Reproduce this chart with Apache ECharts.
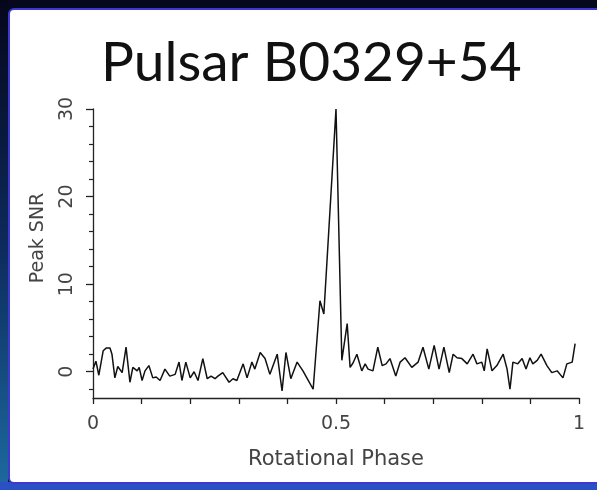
<!DOCTYPE html>
<html>
<head>
<meta charset="utf-8">
<style>
  html, body { margin: 0; padding: 0; background: #06081e; }
  #chart { width: 597px; height: 490px; }
</style>
<script src="https://cdn.jsdelivr.net/npm/echarts@6/dist/echarts.min.js"></script>
</head>
<body>
<div id="chart"></div>
<script>
// Folded pulse profile of PSR B0329+54: rotational phase vs. peak SNR
const phase = [
  0.000, 0.006, 0.012, 0.021, 0.027, 0.035, 0.039, 0.045, 0.051, 0.060,
  0.068, 0.076, 0.082, 0.091, 0.095, 0.101, 0.107, 0.115, 0.123, 0.130,
  0.138, 0.148, 0.158, 0.169, 0.177, 0.183, 0.191, 0.200, 0.208, 0.216,
  0.226, 0.235, 0.243, 0.251, 0.257, 0.267, 0.280, 0.288, 0.296, 0.309,
  0.317, 0.327, 0.333, 0.344, 0.354, 0.364, 0.379, 0.389, 0.397, 0.407,
  0.420, 0.432, 0.442, 0.453, 0.467, 0.475, 0.500, 0.512, 0.523, 0.529,
  0.535, 0.543, 0.553, 0.560, 0.566, 0.576, 0.586, 0.595, 0.603, 0.611,
  0.623, 0.632, 0.642, 0.656, 0.669, 0.679, 0.691, 0.702, 0.712, 0.722,
  0.733, 0.741, 0.749, 0.759, 0.770, 0.782, 0.790, 0.800, 0.805, 0.811,
  0.821, 0.831, 0.844, 0.852, 0.858, 0.864, 0.874, 0.883, 0.891, 0.899,
  0.905, 0.914, 0.922, 0.934, 0.944, 0.955, 0.967, 0.975, 0.986, 0.992
];
const peakSnr = [
  0.3, 1.2, -0.4, 2.4, 2.7, 2.7, 2.0, -0.7, 0.6, -0.1,
  2.8, -1.2, 0.5, 0.1, 0.5, -1.0, 0.1, 0.7, -0.7, -0.6,
  -1.0, 0.3, -0.5, -0.3, 1.1, -1.0, 1.1, -0.7, 0.0, -1.0,
  1.5, -0.8, -0.5, -0.8, -0.5, -0.1, -1.2, -0.8, -1.0, 0.9,
  -0.7, 1.1, 0.3, 2.2, 1.5, -0.3, 2.0, -2.2, 2.2, -0.8,
  1.1, 0.1, -0.9, -2.0, 8.1, 6.6, 30.0, 1.3, 5.5, 0.5,
  1.0, 2.0, 0.1, 0.9, 0.3, 0.1, 2.8, 0.7, 0.9, 1.5,
  -0.5, 1.1, 1.6, 0.5, 1.1, 2.8, 0.3, 3.0, 0.3, 2.8,
  -0.1, 2.0, 1.6, 1.5, 0.9, 2.0, 0.9, 1.1, 0.1, 2.6,
  0.1, 0.7, 2.0, 0.3, -2.0, 1.1, 0.9, 1.5, 0.3, 1.6,
  0.9, 1.3, 2.0, 0.7, -0.1, 0.1, -0.7, 0.9, 1.1, 3.2
];

const xTickLabels = [0, 0.5, 1];
const yTickLabels = [0, 10, 20, 30];
const yMinorTicks = [-2, 2, 4, 6, 8, 12, 14, 16, 18, 22, 24, 26, 28];

const profile = phase.map((p, i) => [p, peakSnr[i]]);

const axisColor = '#222';
const labelColor = '#444';
const labelFont = 'DejaVu Sans';

const chart = echarts.init(document.getElementById('chart'), null, { renderer: 'canvas' });

chart.setOption({
  backgroundColor: '#06081e',
  animation: false,
  graphic: [
    // slide backdrop
    { type: 'rect', z: -10, shape: { x: 0, y: 0, width: 8, height: 490 },
      style: { fill: new echarts.graphic.LinearGradient(0, 0, 0, 1, [
        { offset: 0, color: '#05061a' }, { offset: 0.5, color: '#0d2a5c' }, { offset: 1, color: '#1d6aa0' }]) } },
    { type: 'rect', z: -10, shape: { x: 0, y: 482, width: 597, height: 8 },
      style: { fill: '#2b4fc4' } },
    { type: 'rect', z: -9, shape: { x: 9, y: 9, width: 600, height: 474, r: 5 },
      style: { fill: '#ffffff', stroke: '#3a3ad0', lineWidth: 2 } },
    // heading
    { type: 'text', z: 10, left: 101, top: 36,
      style: { text: 'Pulsar B0329+54', font: '55px Lato', fill: '#111',
        textAlign: 'left' } },
    // y-axis title, centred on the 0–30 span
    { type: 'text', z: 10, x: 38, y: 238, rotation: Math.PI / 2,
      style: { text: 'Peak SNR', font: '19px "DejaVu Sans"', fill: labelColor,
        textAlign: 'center', textVerticalAlign: 'middle' } }
  ],
  grid: { left: 93, right: 18, top: 109, bottom: 92, containLabel: false },
  xAxis: {
    type: 'value',
    min: 0, max: 1, interval: 0.1,
    name: 'Rotational Phase',
    nameLocation: 'middle',
    nameGap: 51,
    nameTextStyle: { fontFamily: labelFont, fontSize: 21, color: labelColor },
    axisLine: { onZero: false, lineStyle: { color: axisColor, width: 1.3 } },
    axisTick: { show: true, inside: false, length: 6, lineStyle: { color: axisColor, width: 1.3 } },
    axisLabel: {
      customValues: xTickLabels,
      margin: 17,
      fontFamily: labelFont, fontSize: 19, color: labelColor,
      formatter: v => String(v)
    },
    splitLine: { show: false }
  },
  yAxis: [
    {
      type: 'value',
      min: -3, max: 30,
      axisLine: { show: true, onZero: false, lineStyle: { color: axisColor, width: 1.3 } },
      axisTick: { show: true, customValues: yTickLabels, length: 7,
        lineStyle: { color: axisColor, width: 1.3 } },
      axisLabel: {
        customValues: yTickLabels,
        rotate: 90, margin: 16,
        fontFamily: labelFont, fontSize: 19, color: labelColor
      },
      splitLine: { show: false }
    },
    {
      type: 'value',
      position: 'left',
      min: -3, max: 30,
      axisLine: { show: false, onZero: false },
      axisTick: { show: true, customValues: yMinorTicks, length: 4,
        lineStyle: { color: axisColor, width: 1.2 } },
      axisLabel: { show: false },
      splitLine: { show: false }
    }
  ],
  series: [{
    type: 'line',
    data: profile,
    xAxisIndex: 0,
    yAxisIndex: 0,
    showSymbol: false,
    lineStyle: { color: '#111', width: 1.5 },
    z: 3
  }]
});
</script>
</body>
</html>
